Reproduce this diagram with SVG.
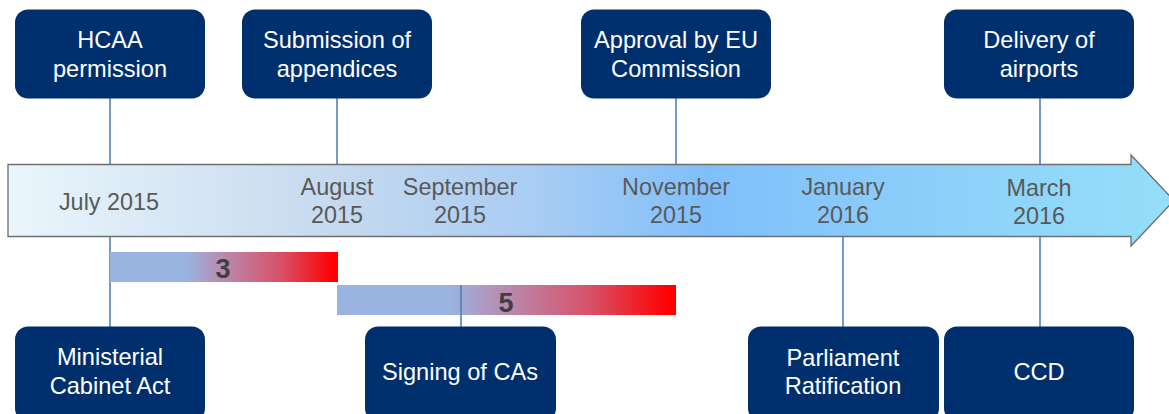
<svg xmlns="http://www.w3.org/2000/svg" width="1169" height="414" viewBox="0 0 1169 414">
<defs>
<linearGradient id="arrowGrad" x1="8" y1="0" x2="1174" y2="0" gradientUnits="userSpaceOnUse">
<stop offset="0" stop-color="#eaf6fc"/>
<stop offset="0.28" stop-color="#c6d9ee"/>
<stop offset="0.45" stop-color="#a9cdf3"/>
<stop offset="0.6" stop-color="#80bffa"/>
<stop offset="0.78" stop-color="#8ccefa"/>
<stop offset="1" stop-color="#95dff9"/>
</linearGradient>
<linearGradient id="barGrad" x1="0" y1="0" x2="1" y2="0">
<stop offset="0" stop-color="#9ab4e2"/>
<stop offset="0.33" stop-color="#9ab4e2"/>
<stop offset="0.5" stop-color="#b98aae"/>
<stop offset="0.75" stop-color="#d85068"/>
<stop offset="0.98" stop-color="#ff0000"/>
<stop offset="1" stop-color="#ff0000"/>
</linearGradient>
</defs>
<style>
.box{fill:#002f6e;}
.bt{font-family:"Liberation Sans",Arial,sans-serif;font-size:23.6px;fill:#ffffff;text-anchor:middle;}
.mt{font-family:"Liberation Sans",Arial,sans-serif;font-size:23.4px;fill:#595959;text-anchor:middle;}
.num{font-family:"Liberation Sans",Arial,sans-serif;font-size:27px;font-weight:bold;fill:#404040;text-anchor:middle;}
.conn{stroke:#4f81bd;stroke-width:1.6;fill:none;}
</style>
<rect width="1169" height="414" fill="#ffffff"/>

<g id="connectors">
<line class="conn" x1="110" y1="98" x2="110" y2="165"/>
<line class="conn" x1="110" y1="236" x2="110" y2="327"/>
<line class="conn" x1="337" y1="98" x2="337" y2="165"/>
<line class="conn" x1="676" y1="98" x2="676" y2="165"/>
<line class="conn" x1="1040" y1="98" x2="1040" y2="165"/>
<line class="conn" x1="1040" y1="236" x2="1040" y2="327"/>
<line class="conn" x1="843" y1="236" x2="843" y2="327"/>
</g>

<g id="timeline">
<path d="M8,164.5 H1131 V155 L1174,200.5 L1131,246 V236.5 H8 Z" fill="url(#arrowGrad)" stroke="#6f6f6f" stroke-width="1.3"/>
<text class="mt" x="109" y="210">July 2015</text>
<text class="mt" x="337" y="195">August</text>
<text class="mt" x="337" y="223">2015</text>
<text class="mt" x="460" y="195">September</text>
<text class="mt" x="460" y="223">2015</text>
<text class="mt" x="676" y="195">November</text>
<text class="mt" x="676" y="223">2015</text>
<text class="mt" x="843" y="195">January</text>
<text class="mt" x="843" y="223">2016</text>
<text class="mt" x="1039" y="196">March</text>
<text class="mt" x="1039" y="224">2016</text>
</g>

<g id="bar3">
<rect x="110" y="252" width="228" height="30" fill="url(#barGrad)"/>
<text class="num" x="223" y="278">3</text>
</g>
<g id="bar5">
<rect x="337" y="285" width="339" height="30" fill="url(#barGrad)"/>
<line class="conn" x1="461" y1="285" x2="461" y2="327"/>
<text class="num" x="506" y="312">5</text>
</g>

<g id="hcaa">
<rect class="box" x="15" y="9.5" width="190" height="89" rx="13"/>
<text class="bt" x="110" y="48">HCAA</text>
<text class="bt" x="110" y="77">permission</text>
</g>
<g id="submission">
<rect class="box" x="242" y="9.5" width="190" height="89" rx="13"/>
<text class="bt" x="337" y="48">Submission of</text>
<text class="bt" x="337" y="77">appendices</text>
</g>
<g id="approval">
<rect class="box" x="581" y="9.5" width="190" height="89" rx="13"/>
<text class="bt" x="676" y="48">Approval by EU</text>
<text class="bt" x="676" y="77">Commission</text>
</g>
<g id="delivery">
<rect class="box" x="944" y="9.5" width="190" height="89" rx="13"/>
<text class="bt" x="1039" y="48">Delivery of</text>
<text class="bt" x="1039" y="77">airports</text>
</g>
<g id="ministerial">
<rect class="box" x="15" y="326.5" width="190" height="95" rx="13"/>
<text class="bt" x="110" y="365">Ministerial</text>
<text class="bt" x="110" y="394">Cabinet Act</text>
</g>
<g id="signing">
<rect class="box" x="365" y="326.5" width="191" height="95" rx="13"/>
<text class="bt" x="460" y="380">Signing of CAs</text>
</g>
<g id="parliament">
<rect class="box" x="748" y="326.5" width="191" height="95" rx="13"/>
<text class="bt" x="843" y="366">Parliament</text>
<text class="bt" x="843" y="394">Ratification</text>
</g>
<g id="ccd">
<rect class="box" x="944" y="326.5" width="190" height="95" rx="13"/>
<text class="bt" x="1039" y="380">CCD</text>
</g>
</svg>
